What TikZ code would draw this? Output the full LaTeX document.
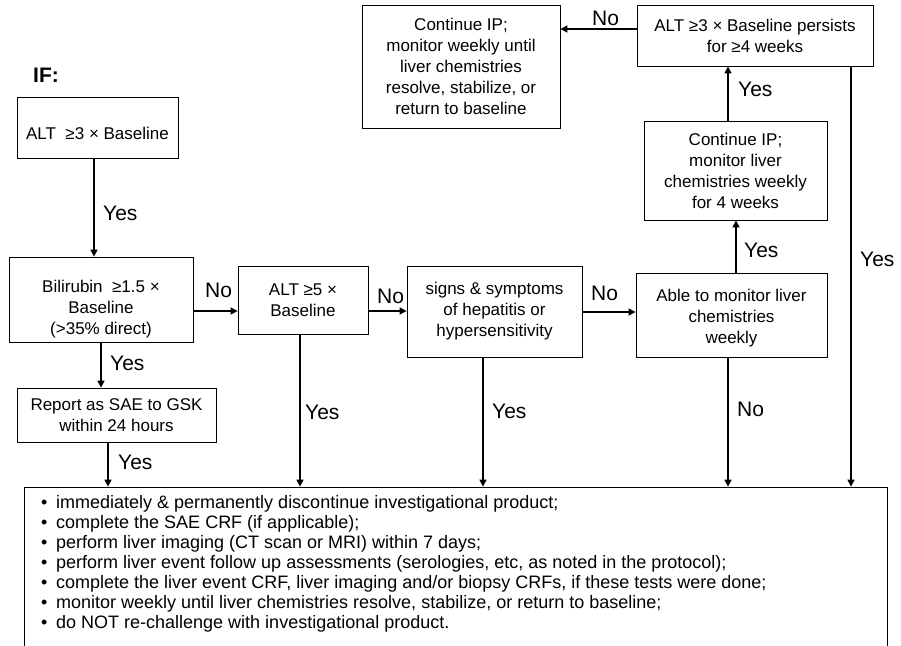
\documentclass[tikz,border=0pt]{standalone}
\usepackage{fontspec}
\setmainfont{Liberation Sans}
\usetikzlibrary{arrows.meta}
\begin{document}
\begin{tikzpicture}[x=1pt,y=-1pt,
  box/.style={draw=black, line width=0.8pt, inner sep=0pt, align=center, font=\fontsize{17}{21}\selectfont},
  txt/.style={inner sep=0pt, align=center, font=\fontsize{17}{21}\selectfont},
  lbl/.style={inner sep=0pt, anchor=west, font=\fontsize{21}{24}\selectfont, text height=15pt, text depth=0pt},
  arr/.style={line width=1.5pt, -{Triangle[length=7pt,width=7pt]}}
]
\useasboundingbox (0,0) rectangle (901,645);
\clip (0,0) rectangle (901,645);
\fill[white] (0,0) rectangle (901,645);

% boxes
\node[box, minimum width=161pt, minimum height=61pt] (A) at (97.5,127.5) {};
\node[txt] (At) at (97.5,133) {ALT\ \ ≥3 × Baseline};
\node[box, minimum width=184pt, minimum height=85pt] (B) at (101,299.5) {};
\node[txt] (Bt) at (101,309) {Bilirubin\ \ ≥1.5 ×\\Baseline\\(>35\% direct)};
\node[box, minimum width=130pt, minimum height=68pt] (C) at (303,300) {ALT ≥5 ×\\Baseline};
\node[box, minimum width=175pt, minimum height=91pt] (D) at (494.5,311.5) {signs \& symptoms\\of hepatitis or\\hypersensitivity};
\node[box, minimum width=191pt, minimum height=84pt] (E) at (731.5,315) {};
\node[txt] (Et) at (731.5,318) {Able to monitor liver\\chemistries\\weekly};
\node[box, minimum width=183pt, minimum height=99pt] (F) at (735.5,170.5) {Continue IP;\\monitor liver\\chemistries weekly\\for 4 weeks};
\node[box, minimum width=236pt, minimum height=61pt] (G) at (755,35.5) {ALT ≥3 × Baseline persists\\for ≥4 weeks};
\node[box, minimum width=198pt, minimum height=123pt] (H) at (461,66.5) {Continue IP;\\monitor weekly until\\liver chemistries\\resolve, stabilize, or\\return to baseline};
\node[box, minimum width=199pt, minimum height=54pt] (R) at (116.5,415) {Report as SAE to GSK\\within 24 hours};
\node[box, minimum width=863pt, minimum height=180pt] (act) at (455.5,577) {};
\node[anchor=base west, inner sep=0pt, font=\fontsize{18}{20}\selectfont] (actt) at (41,508) {%
\begin{tabular}[t]{@{}l@{}}
\makebox[15pt][l]{•}immediately \& permanently discontinue investigational product;\\
\makebox[15pt][l]{•}complete the SAE CRF (if applicable);\\
\makebox[15pt][l]{•}perform liver imaging (CT scan or MRI) within 7 days;\\
\makebox[15pt][l]{•}perform liver event follow up assessments (serologies, etc, as noted in the protocol);\\
\makebox[15pt][l]{•}complete the liver event CRF, liver imaging and/or biopsy CRFs, if these tests were done;\\
\makebox[15pt][l]{•}monitor weekly until liver chemistries resolve, stabilize, or return to baseline;\\
\makebox[15pt][l]{•}do NOT re-challenge with investigational product.
\end{tabular}};

% title
\node[lbl, font=\bfseries\fontsize{21}{24}\selectfont] (if) at (33,75) {IF:};

% connector positions
\coordinate (xab) at (94,0);
\coordinate (xbr) at (101,0);
\coordinate (xrd) at (108,0);
\coordinate (xc) at (300,0);
\coordinate (xd) at (483,0);
\coordinate (xe) at (728,0);
\coordinate (xef) at (736,0);
\coordinate (xfg) at (728,0);
\coordinate (xg) at (851,0);
\coordinate (ybc) at (0,311);
\coordinate (yde) at (0,312);
\coordinate (ygh) at (0,29);

\draw[arr] (A.south -| xab) -- (B.north -| xab);
\draw[arr] (B.south -| xbr) -- (R.north -| xbr);
\draw[arr] (R.south -| xrd) -- (act.north -| xrd);
\draw[arr] (B.east |- ybc) -- (C.west |- ybc);
\draw[arr] (C.east |- ybc) -- (D.west |- ybc);
\draw[arr] (D.east |- yde) -- (E.west |- yde);
\draw[arr] (C.south -| xc) -- (act.north -| xc);
\draw[arr] (D.south -| xd) -- (act.north -| xd);
\draw[arr] (E.south -| xe) -- (act.north -| xe);
\draw[arr] (E.north -| xef) -- (F.south -| xef);
\draw[arr] (F.north -| xfg) -- (G.south -| xfg);
\draw[arr] (G.west |- ygh) -- (H.east |- ygh);
\draw[arr] (G.south -| xg) -- (act.north -| xg);

% labels
\node[lbl] (l1) at (103,213) {Yes};
\node[lbl] (l2) at (205,290) {No};
\node[lbl] (l3) at (377,296) {No};
\node[lbl] (l4) at (591,293) {No};
\node[lbl] (l5) at (744,250) {Yes};
\node[lbl] (l6) at (738,89) {Yes};
\node[lbl] (l7) at (592,18) {No};
\node[lbl] (l8) at (860,259) {Yes};
\node[lbl] (l9) at (110,363) {Yes};
\node[lbl] (l10) at (118,462) {Yes};
\node[lbl] (l11) at (305,412) {Yes};
\node[lbl] (l12) at (492,411) {Yes};
\node[lbl] (l13) at (737,409) {No};
\end{tikzpicture}
\end{document}
